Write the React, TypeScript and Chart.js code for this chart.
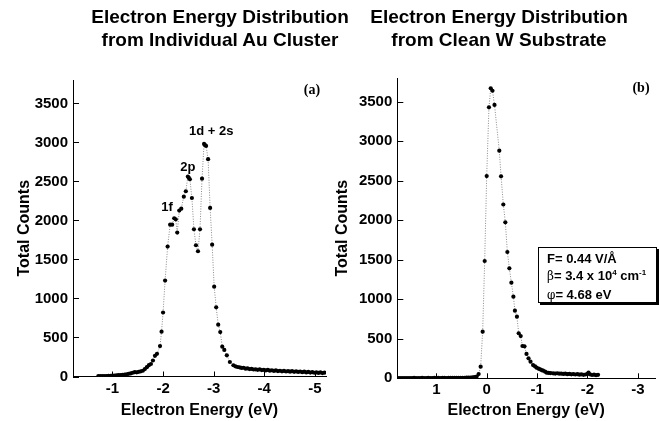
import React, { useEffect, useRef } from "react";
import { Chart, registerables } from "chart.js";

Chart.register(...registerables);

// ---------- data ----------
const leftEnergy = [
  -0.72, -0.76, -0.8, -0.84, -0.88, -0.92, -0.96, -1.0, -1.04, -1.08,
  -1.12, -1.16, -1.2, -1.24, -1.28, -1.32, -1.36, -1.4, -1.44, -1.48,
  -1.52, -1.56, -1.6, -1.64, -1.68, -1.72, -1.76, -1.8, -1.84, -1.88,
  -1.94, -1.97, -2.0, -2.04, -2.09, -2.14, -2.18, -2.22, -2.25, -2.28,
  -2.32, -2.36, -2.41, -2.45, -2.49, -2.51, -2.53, -2.57, -2.61, -2.65,
  -2.69, -2.73, -2.77, -2.81, -2.83, -2.85, -2.89, -2.93, -2.97, -3.01,
  -3.05, -3.09, -3.13, -3.17, -3.21, -3.26, -3.32, -3.39,
  -3.43, -3.47, -3.51, -3.55, -3.59, -3.63, -3.67, -3.71, -3.75, -3.79,
  -3.83, -3.87, -3.91, -3.95, -3.99, -4.03, -4.07, -4.11, -4.15, -4.19,
  -4.23, -4.27, -4.31, -4.35, -4.39, -4.43, -4.47, -4.51, -4.55, -4.59,
  -4.63, -4.67, -4.71, -4.75, -4.79, -4.83, -4.87, -4.91, -4.95, -4.99,
  -5.03, -5.07, -5.11, -5.15, -5.19,
];
const leftCounts = [
  4, 5, 4, 6, 5, 7, 8, 10, 13, 15,
  17, 19, 22, 25, 29, 34, 40, 48, 56, 54,
  60, 66, 74, 95, 120, 145, 160, 205, 265, 290,
  390, 575, 820, 1230, 1665, 1946, 1946, 2028, 2015, 1844,
  2126, 2151, 2305, 2374, 2562, 2545, 2528, 2288, 1887, 1682,
  1605, 1887, 2536, 2981, 2965, 2955, 2785, 2160, 1690, 1151,
  887, 664, 570, 382, 340, 272, 186, 144,
  130, 122, 118, 110, 112, 100, 104, 95, 98, 90,
  92, 85, 92, 82, 86, 78, 84, 75, 80, 72,
  78, 70, 74, 66, 72, 64, 70, 62, 68, 60,
  66, 58, 64, 56, 62, 52, 58, 50, 56, 48,
  54, 46, 52, 44, 50,
];

const rightEnergy = [
  1.76, 1.72, 1.68, 1.64, 1.6, 1.56, 1.52, 1.48, 1.44, 1.4,
  1.36, 1.32, 1.28, 1.24, 1.2, 1.16, 1.12, 1.08, 1.04, 1.0,
  0.96, 0.92, 0.88, 0.84, 0.8, 0.76, 0.72, 0.68, 0.64, 0.6,
  0.56, 0.52, 0.48, 0.44, 0.4, 0.36, 0.32, 0.28, 0.24, 0.2,
  0.16, 0.12, 0.08, 0.04, 0.0, -0.045, -0.08, -0.115, -0.155, -0.25,
  -0.285, -0.33, -0.37, -0.41, -0.45, -0.49, -0.53, -0.56, -0.6, -0.635,
  -0.675, -0.71, -0.75, -0.79, -0.83, -0.87, -0.92, -0.96, -0.99, -1.03,
  -1.06, -1.09, -1.12, -1.16, -1.19, -1.23, -1.27, -1.32, -1.36, -1.4,
  -1.44, -1.48, -1.52, -1.56, -1.6, -1.64, -1.68, -1.72, -1.76, -1.8,
  -1.84, -1.88, -1.92, -1.96, -2.0, -2.02, -2.05, -2.09, -2.13, -2.17, -2.21,
];
const rightCounts = [
  3, 4, 3, 4, 3, 4, 4, 3, 5, 4,
  3, 4, 5, 4, 4, 5, 3, 4, 5, 4,
  5, 4, 5, 5, 4, 6, 5, 5, 6, 5,
  6, 6, 7, 6, 8, 8, 10, 12, 15, 22,
  54, 147, 590, 1485, 2560, 3430, 3670, 3640, 3460, 2881,
  2557, 2200, 1975, 1599, 1392, 1210, 1033, 856, 780, 570,
  535, 409, 405, 308, 253, 210, 168, 150, 134, 122,
  114, 104, 96, 84, 71, 68, 66, 63, 60, 64,
  58, 60, 55, 58, 52, 56, 50, 54, 48, 52,
  46, 50, 44, 48, 56, 72, 50, 42, 46, 40, 44,
];

const yTickValues = [0, 500, 1000, 1500, 2000, 2500, 3000, 3500];
const leftXTicks = [-1, -2, -3, -4, -5];
const rightXTicks = [1, 0, -1, -2, -3];

const leftPeakLabels = ["1f", "2p", "1d + 2s"];
const leftPeakEnergy = [-2.08, -2.49, -2.95];
const leftPeakCounts = [2170, 2680, 3135];

const panelTitles = [
  ["Electron Energy Distribution", "from Individual Au Cluster"],
  ["Electron Energy Distribution", "from Clean W Substrate"],
];
const panelLetters = ["(a)", "(b)"];
const xAxisTitle = "Electron Energy (eV)";
const yAxisTitle = "Total Counts";

const FONT = '"Liberation Sans", Arial, Helvetica, sans-serif';

// ---------- plugins ----------
const inwardTicks = {
  id: "inwardTicks",
  afterDraw(chart: any) {
    const { ctx, chartArea, scales } = chart;
    ctx.save();
    ctx.strokeStyle = "#000";
    ctx.lineWidth = 1;
    const xs = scales.x;
    const ys = scales.y;
    ctx.beginPath();
    xs.ticks.forEach((t: any) => {
      const px = Math.round(xs.getPixelForValue(t.value)) + 0.5;
      ctx.moveTo(px, chartArea.bottom);
      ctx.lineTo(px, chartArea.bottom - 5);
    });
    ys.ticks.forEach((t: any) => {
      const py = Math.round(ys.getPixelForValue(t.value)) + 0.5;
      ctx.moveTo(chartArea.left, py);
      ctx.lineTo(chartArea.left + 6, py);
    });
    ctx.stroke();
    ctx.restore();
  },
};

const annotate = {
  id: "annotate",
  afterDraw(chart: any) {
    const opts = chart.options.plugins.annotate || {};
    const { ctx, chartArea, scales } = chart;
    ctx.save();
    ctx.fillStyle = "#000";
    ctx.textAlign = "center";
    ctx.textBaseline = "middle";
    (opts.labels || []).forEach((l: any) => {
      ctx.font = `bold 13px ${FONT}`;
      ctx.fillText(l.text, scales.x.getPixelForValue(l.x), scales.y.getPixelForValue(l.y));
    });
    if (opts.letter) {
      ctx.font = 'bold 14px "Liberation Serif", "Times New Roman", serif';
      ctx.fillText(opts.letter, chartArea.right - 14, chartArea.top + 10);
    }
    ctx.restore();
  },
};

type PanelCfg = {
  energy: number[];
  counts: number[];
  xMin: number;
  xMax: number;
  xTicks: number[];
  yWidth: number;
  xHeight: number;
  padTop: number;
  padRight: number;
  yTitlePad: number;
  labels: any[];
  letter: string;
};

function makeChart(canvas: HTMLCanvasElement, cfg: PanelCfg) {
  const tickFont = { family: FONT, size: 15, weight: "bold" as const };
  const titleFont = { family: FONT, size: 16, weight: "bold" as const };
  return new Chart(canvas, {
    type: "scatter",
    data: {
      datasets: [
        {
          data: cfg.energy.map((e, i) => ({ x: e, y: cfg.counts[i] })),
          showLine: true,
          borderColor: "#8a8a8a",
          borderWidth: 1,
          borderDash: [1, 1.5],
          pointRadius: 2.1,
          pointBackgroundColor: "#000",
          pointBorderWidth: 0,
          pointHoverRadius: 2.1,
        },
      ],
    },
    options: {
      responsive: false,
      animation: false,
      events: [],
      layout: { padding: { left: 0, top: cfg.padTop, right: cfg.padRight, bottom: 0 } },
      plugins: {
        legend: { display: false },
        tooltip: { enabled: false },
        // @ts-ignore
        annotate: { labels: cfg.labels, letter: cfg.letter },
      },
      scales: {
        x: {
          type: "linear",
          min: cfg.xMin,
          max: cfg.xMax,
          reverse: true,
          afterBuildTicks: (s: any) => {
            s.ticks = cfg.xTicks.map((v) => ({ value: v }));
          },
          afterFit: (s: any) => {
            s.height = cfg.xHeight;
            s.paddingLeft = 0;
            s.paddingRight = 0;
          },
          grid: { display: false, drawTicks: false },
          border: { display: true, color: "#000", width: 1 },
          ticks: {
            color: "#000",
            font: tickFont,
            padding: 3,
            maxRotation: 0,
            autoSkip: false,
            callback: (v: any) => String(v),
          },
          title: {
            display: true,
            text: xAxisTitle,
            color: "#000",
            font: titleFont,
            padding: { top: 0, bottom: 1 },
          },
        },
        y: {
          type: "linear",
          min: 0,
          max: 3800,
          afterBuildTicks: (s: any) => {
            s.ticks = yTickValues.map((v) => ({ value: v }));
          },
          afterFit: (s: any) => {
            s.width = cfg.yWidth;
            s.paddingTop = 0;
            s.paddingBottom = 0;
          },
          grid: { display: false, drawTicks: false },
          border: { display: true, color: "#000", width: 1 },
          ticks: {
            color: "#000",
            font: tickFont,
            padding: 5,
            autoSkip: false,
            callback: (v: any) => String(v),
          },
          title: {
            display: true,
            text: yAxisTitle,
            color: "#000",
            font: titleFont,
            padding: { top: cfg.yTitlePad, bottom: 0 },
          },
        },
      },
    },
    plugins: [inwardTicks, annotate],
  } as any);
}

export default function App() {
  const leftRef = useRef<HTMLCanvasElement>(null);
  const rightRef = useRef<HTMLCanvasElement>(null);

  useEffect(() => {
    const left = makeChart(leftRef.current!, {
      energy: leftEnergy,
      counts: leftCounts,
      xMin: -5.22,
      xMax: -0.22,
      xTicks: leftXTicks,
      yWidth: 73,
      xHeight: 44.5,
      padTop: 80,
      padRight: 3,
      yTitlePad: 15,
      labels: leftPeakLabels.map((t, i) => ({ text: t, x: leftPeakEnergy[i], y: leftPeakCounts[i] })),
      letter: panelLetters[0],
    });
    const right = makeChart(rightRef.current!, {
      energy: rightEnergy,
      counts: rightCounts,
      xMin: -3.34,
      xMax: 1.774,
      xTicks: rightXTicks,
      yWidth: 68.3,
      xHeight: 42.7,
      padTop: 78.1,
      padRight: 4,
      yTitlePad: 4,
      labels: [],
      letter: panelLetters[1],
    });
    return () => {
      left.destroy();
      right.destroy();
    };
  }, []);

  const titleStyle = (cx: number): React.CSSProperties => ({
    position: "absolute",
    left: cx - 160,
    top: 5,
    width: 320,
    textAlign: "center",
    font: `bold 19px ${FONT}`,
    lineHeight: "23px",
    color: "#000",
    whiteSpace: "nowrap",
  });
  const greek: React.CSSProperties = { fontFamily: '"DejaVu Serif", "Liberation Serif", serif', fontWeight: "normal", fontSize: 12 };
  const sup: React.CSSProperties = { fontSize: 8, position: "relative", top: -5 };

  return (
    <div style={{ position: "fixed", left: 0, top: 0, width: 659, height: 421, background: "#fff", overflow: "hidden" }}>
      <canvas ref={leftRef} width={329} height={421} style={{ position: "absolute", left: 0, top: 0 }} />
      <canvas ref={rightRef} width={330} height={421} style={{ position: "absolute", left: 329, top: 0 }} />
      <div style={titleStyle(220)}>
        {panelTitles[0].map((t) => (
          <div key={t}>{t}</div>
        ))}
      </div>
      <div style={titleStyle(499)}>
        {panelTitles[1].map((t) => (
          <div key={t}>{t}</div>
        ))}
      </div>
      <div
        style={{
          position: "absolute",
          left: 538,
          top: 247,
          width: 119,
          height: 56,
          boxSizing: "border-box",
          border: "1px solid #000",
          boxShadow: "2px 2px 0 #000",
          background: "#fff",
          font: `bold 13px ${FONT}`,
          lineHeight: "17px",
          padding: "2px 0 0 8px",
          color: "#000",
          whiteSpace: "nowrap",
        }}
      >
        <div>F= 0.44 V/Å</div>
        <div>
          <span style={greek}>β</span>= 3.4 x 10<span style={sup}>4</span> cm<span style={sup}>-1</span>
        </div>
        <div>
          <span style={greek}>φ</span>= 4.68 eV
        </div>
      </div>
    </div>
  );
}
